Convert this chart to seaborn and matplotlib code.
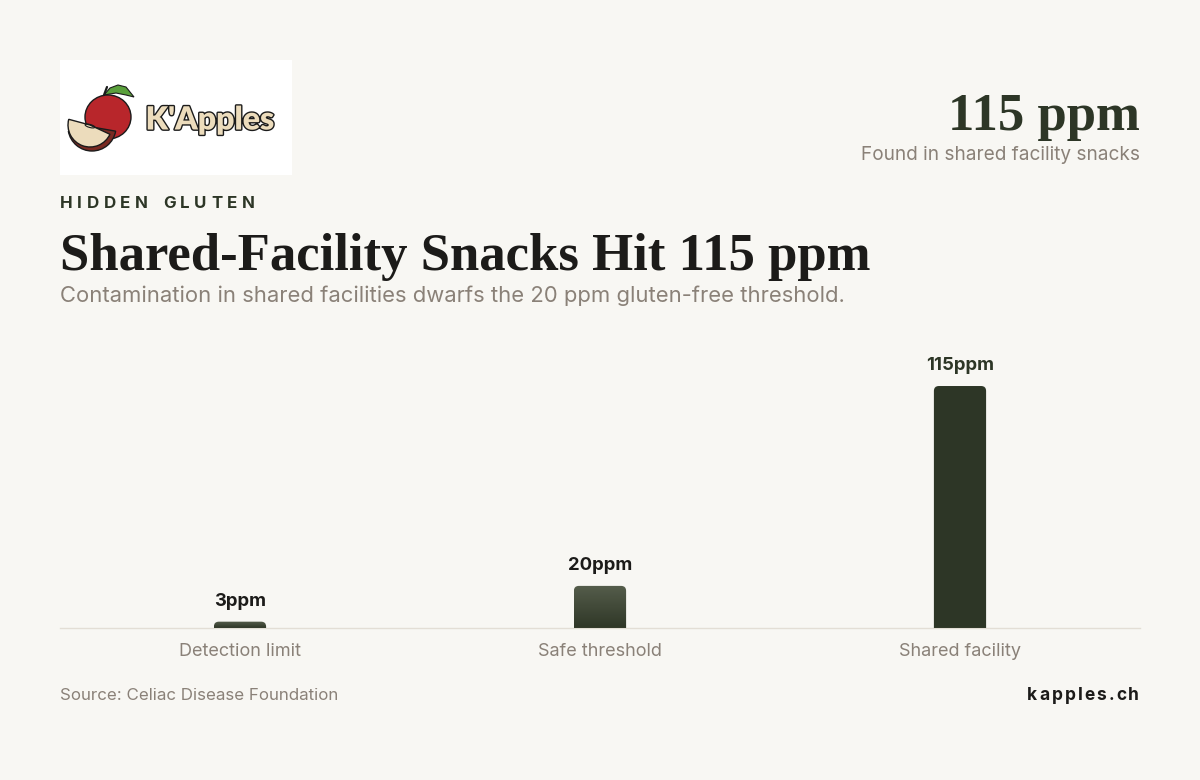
import numpy as np
import pandas as pd
import matplotlib
matplotlib.use('Agg')
import matplotlib.pyplot as plt
import matplotlib.patheffects as pe
from matplotlib.path import Path
from matplotlib.patches import PathPatch, Rectangle, Ellipse, Wedge, Polygon
import seaborn as sns

# chart data
categories = ['Detection limit', 'Safe threshold', 'Shared facility']
values_ppm = [3, 20, 115]
value_labels = ['3ppm', '20ppm', '115ppm']
highlight = 'Shared facility'

BG = '#f8f7f3'
DARK_GREEN = '#2d3626'
GREY = '#8a8178'
INK = '#1c1b19'
SERIF = ['Liberation Serif', 'DejaVu Serif']

sns.set_theme(style='white')
plt.rcParams['font.family'] = ['Inter', 'DejaVu Sans']
plt.rcParams['figure.facecolor'] = BG
plt.rcParams['axes.facecolor'] = BG

fig = plt.figure(figsize=(12, 7.8), dpi=100)
fig.patch.set_facecolor(BG)
renderer = fig.canvas.get_renderer()


def rounded_top(x0, x1, h, rx, ry):
    # rectangle with the two top corners rounded
    ry = min(ry, h)
    verts = [(x0, 0), (x0, h - ry), (x0, h), (x0 + rx, h), (x1 - rx, h),
             (x1, h), (x1, h - ry), (x1, 0), (x0, 0)]
    codes = [Path.MOVETO, Path.LINETO, Path.CURVE3, Path.CURVE3, Path.LINETO,
             Path.CURVE3, Path.CURVE3, Path.LINETO, Path.CLOSEPOLY]
    return Path(verts, codes)


def tracked_text(x_px, y_px, s, track_px, align='left', **kw):
    # letter-spaced text, placed one glyph at a time (pixel coords, y from top)
    widths = []
    for ch in s:
        t = fig.text(0, 0, ch if ch != ' ' else 'n', **kw)
        widths.append(t.get_window_extent(renderer).width * (0.55 if ch == ' ' else 1))
        t.remove()
    total = sum(widths) + track_px * (len(s) - 1)
    x = x_px if align == 'left' else x_px - total
    for ch, w in zip(s, widths):
        if ch != ' ':
            fig.text(x / 1200, 1 - y_px / 780, ch, ha='left', va='center', **kw)
        x += w + track_px


# ---- main bar chart ----
ax = fig.add_axes([0.05, 0.1949, 0.9, 0.382])
df = pd.DataFrame({'category': categories, 'ppm': values_ppm})
palette = {c: (DARK_GREEN if c == highlight else '#3c4432') for c in categories}
sns.barplot(data=df, x='category', y='ppm', hue='category', palette=palette,
            width=0.145, legend=False, ax=ax, saturation=1)
ax.set_xlim(-0.5, len(categories) - 0.5)
ymax = max(values_ppm) * 298 / 242
ax.set_ylim(0, ymax)

# pixel -> data scale for corner radius
px_x = len(categories) / 1080
px_y = ymax / 298
rx, ry = 5 * px_x, 5 * px_y

grad_cmap = matplotlib.colors.LinearSegmentedColormap.from_list('g', ['#2f3727', '#555d4b'])
for patch, cat, lab in zip(ax.patches, categories, value_labels):
    x0 = patch.get_x()
    w = patch.get_width()
    h = patch.get_height()
    patch.set_visible(False)
    path = rounded_top(x0, x0 + w, h, rx, ry)
    if cat == highlight:
        ax.add_patch(PathPatch(path, facecolor=DARK_GREEN, edgecolor='none', zorder=3))
        lab_color = DARK_GREEN
    else:
        clip = PathPatch(path, facecolor='none', edgecolor='none')
        ax.add_patch(clip)
        grad = np.linspace(0, 1, 64).reshape(-1, 1)
        im = ax.imshow(grad, cmap=grad_cmap, origin='lower', aspect='auto',
                       extent=[x0, x0 + w, 0, h], zorder=3)
        im.set_clip_path(clip)
        lab_color = INK
    ax.annotate(lab, (x0 + w / 2, h), xytext=(0, 8.5), textcoords='offset points',
                ha='center', va='bottom', fontsize=13.3, fontweight='bold',
                color=lab_color)

ax.set_xlim(-0.5, len(categories) - 0.5)
ax.set_ylim(0, ymax)
for s in ['top', 'left', 'right']:
    ax.spines[s].set_visible(False)
ax.spines['bottom'].set_color('#e3ded5')
ax.spines['bottom'].set_linewidth(1)
ax.set_yticks([])
ax.set_xlabel('')
ax.set_ylabel('')
ax.tick_params(axis='x', length=0, pad=11, labelsize=13, labelcolor=GREY)

# ---- logo ----
lax = fig.add_axes([60 / 1200, 1 - 175 / 780, 232 / 1200, 115 / 780])
lax.set_xlim(0, 232)
lax.set_ylim(0, 115)
lax.axis('off')
lax.add_patch(Rectangle((0, 0), 232, 115, facecolor='white', edgecolor='none'))
lax.add_patch(Polygon([[44, 80], [50, 87], [58, 90], [66, 88], [74, 78], [66, 80], [56, 82]],
                      closed=True, facecolor='#5aa03c', edgecolor='#1b1b1b', lw=0.8, zorder=2))
lax.plot([42, 44, 47], [72, 80, 88], color='#1b1b1b', lw=1.6, zorder=2)
lax.add_patch(Ellipse((48, 58), 46, 44, facecolor='#b8262b', edgecolor='#1b1b1b', lw=1.0, zorder=3))
lax.add_patch(Wedge((32, 48), 24, 190, 350, facecolor='#7a2a22', edgecolor='#1b1b1b',
                    lw=1.0, zorder=4))
lax.add_patch(Wedge((30, 50), 22, 165, 335, facecolor='#ecdcbc', edgecolor='#1b1b1b',
                    lw=1.0, zorder=5))
lax.add_patch(Ellipse((30, 49), 10, 3, angle=-15, facecolor='none', edgecolor='#1b1b1b',
                      lw=0.8, zorder=6))
lax.text(150, 55, "K'Apples", ha='center', va='center', fontsize=23, fontweight='heavy',
         family=['Lato', 'DejaVu Sans'], color='#ecdcbc', zorder=7,
         path_effects=[pe.withStroke(linewidth=2, foreground='#1b1b1b')])

# ---- header texts ----
fig.text(1140 / 1200, 1 - 130 / 780, '115 ppm', ha='right', va='baseline',
         fontsize=38, fontweight='bold', family=SERIF, color=DARK_GREEN)
fig.text(1140 / 1200, 1 - 155 / 780, 'Found in shared facility snacks', ha='right',
         va='center', fontsize=13.7, color=GREY)
tracked_text(60, 204, 'HIDDEN GLUTEN', 4.6, fontsize=12.2, fontweight='bold',
             color=DARK_GREEN)
fig.text(60 / 1200, 1 - 270 / 780, 'Shared-Facility Snacks Hit 115 ppm', ha='left',
         va='baseline', fontsize=38, fontweight='bold', family=SERIF, color=INK)
fig.text(60 / 1200, 1 - 296 / 780,
         'Contamination in shared facilities dwarfs the 20 ppm gluten-free threshold.',
         ha='left', va='center', fontsize=15.85, color=GREY)

# ---- footer ----
fig.text(60 / 1200, 1 - 695 / 780, 'Source: Celiac Disease Foundation', ha='left',
         va='center', fontsize=12.2, color=GREY)
tracked_text(1139, 695, 'kapples.ch', 2.0, align='right', fontsize=12.5,
             fontweight='bold', color=INK)

fig.savefig('out.png', dpi=100, facecolor=BG)
